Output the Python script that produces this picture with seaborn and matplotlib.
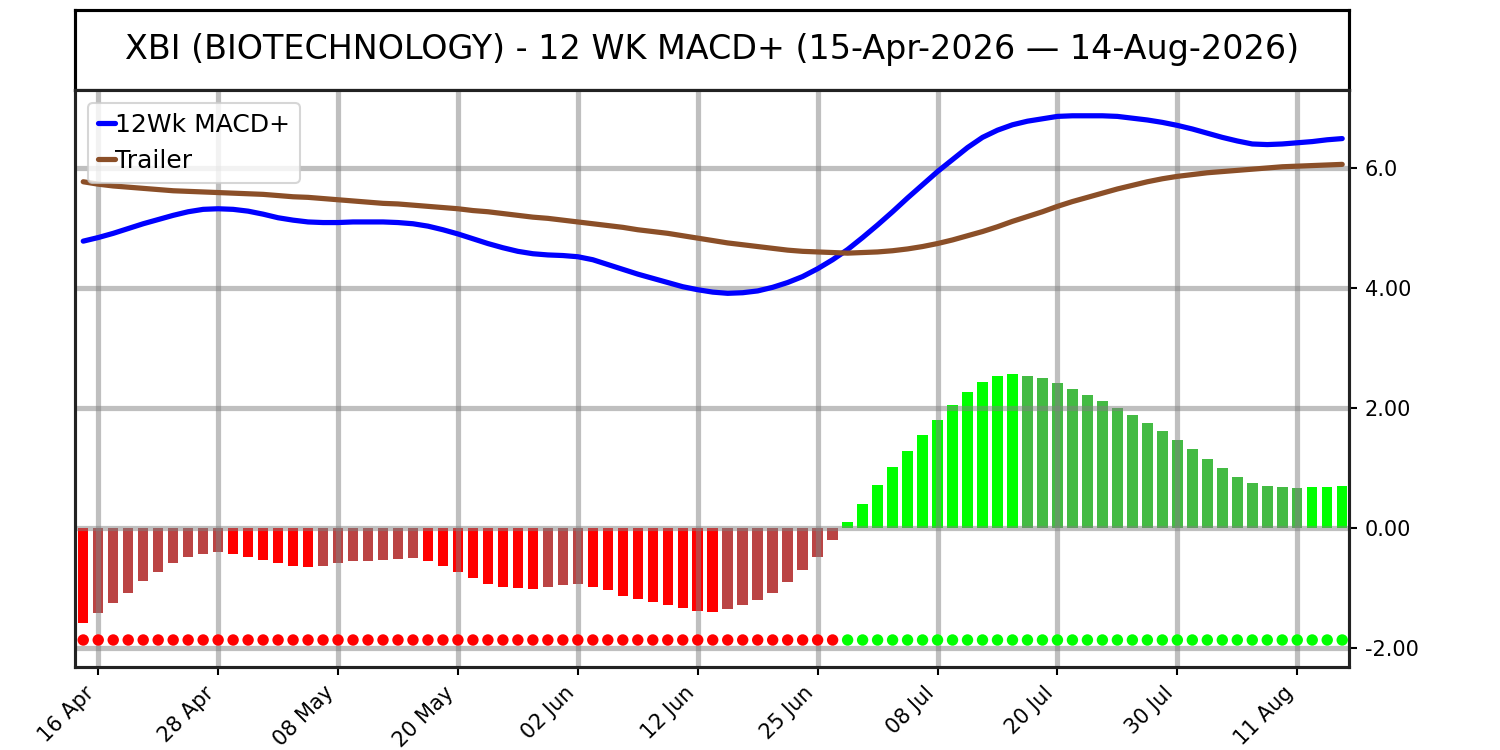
import numpy as np
import pandas as pd
import matplotlib
matplotlib.use("Agg")
import matplotlib.pyplot as plt
import seaborn as sns

# данные графика
title = "XBI (BIOTECHNOLOGY) - 12 WK MACD+ (15-Apr-2026 \u2014 14-Aug-2026)"
tick_labels = ['16 Apr', '28 Apr', '08 May', '20 May', '02 Jun', '12 Jun',
               '25 Jun', '08 Jul', '20 Jul', '30 Jul', '11 Aug']
tick_pos = [1, 9, 17, 25, 33, 41, 49, 57, 65, 73, 81]
ytick_vals = [-2, 0, 2, 4, 6]
ytick_text = ['-2.00', '0.00', '2.00', '4.00', '6.0']

hist = [-1.59, -1.42, -1.26, -1.08, -0.89, -0.74, -0.59, -0.49, -0.44, -0.41,
        -0.43, -0.48, -0.53, -0.59, -0.63, -0.65, -0.63, -0.59, -0.56, -0.55,
        -0.53, -0.52, -0.51, -0.55, -0.63, -0.73, -0.84, -0.93, -0.98, -1.01,
        -1.02, -0.99, -0.96, -0.94, -0.98, -1.04, -1.13, -1.18, -1.24, -1.29,
        -1.34, -1.39, -1.40, -1.36, -1.29, -1.21, -1.08, -0.91, -0.71, -0.48,
        -0.21, 0.10, 0.40, 0.72, 1.02, 1.28, 1.55, 1.80, 2.05, 2.27,
        2.43, 2.53, 2.57, 2.53, 2.50, 2.42, 2.32, 2.22, 2.12, 2.00,
        1.88, 1.75, 1.62, 1.47, 1.32, 1.15, 1.00, 0.85, 0.75, 0.69,
        0.675, 0.67, 0.675, 0.68, 0.69]

macd = [4.78, 4.84, 4.91, 4.99, 5.07, 5.14, 5.21, 5.27, 5.31, 5.32,
        5.31, 5.28, 5.23, 5.17, 5.13, 5.10, 5.09, 5.09, 5.10, 5.10,
        5.10, 5.09, 5.07, 5.03, 4.97, 4.90, 4.82, 4.74, 4.67, 4.61,
        4.57, 4.55, 4.54, 4.52, 4.47, 4.39, 4.31, 4.23, 4.16, 4.09,
        4.02, 3.97, 3.93, 3.91, 3.92, 3.95, 4.01, 4.09, 4.19, 4.32,
        4.47, 4.64, 4.84, 5.05, 5.27, 5.50, 5.72, 5.94, 6.14, 6.34,
        6.51, 6.63, 6.72, 6.78, 6.82, 6.86, 6.87, 6.87, 6.87, 6.86,
        6.83, 6.80, 6.76, 6.71, 6.65, 6.58, 6.51, 6.45, 6.40, 6.39,
        6.40, 6.42, 6.44, 6.47, 6.49]

trailer = [5.77, 5.73, 5.70, 5.68, 5.66, 5.64, 5.62, 5.61, 5.60, 5.59,
           5.58, 5.57, 5.56, 5.54, 5.52, 5.51, 5.49, 5.47, 5.45, 5.43,
           5.41, 5.40, 5.38, 5.36, 5.34, 5.32, 5.29, 5.27, 5.24, 5.21,
           5.18, 5.16, 5.13, 5.10, 5.07, 5.04, 5.01, 4.97, 4.94, 4.91,
           4.87, 4.83, 4.79, 4.75, 4.72, 4.69, 4.66, 4.63, 4.61, 4.60,
           4.59, 4.58, 4.59, 4.60, 4.62, 4.65, 4.69, 4.74, 4.80, 4.87,
           4.94, 5.02, 5.11, 5.19, 5.27, 5.36, 5.44, 5.51, 5.58, 5.65,
           5.71, 5.77, 5.82, 5.86, 5.89, 5.92, 5.94, 5.96, 5.98, 6.00,
           6.02, 6.03, 6.04, 6.05, 6.06]

dot_level = -1.87

df = pd.DataFrame({'idx': np.arange(len(hist)), 'hist': hist,
                   'macd': macd, 'trailer': trailer})
prev = df['hist'].shift(1)
rising = df['hist'] > prev


def bar_color(v, up):
    if v < 0:
        return '#bb4444' if up else '#ff0000'
    return '#00ff00' if up else '#44bb44'


colors = [bar_color(v, u) for v, u in zip(df['hist'], rising)]
dot_colors = ['#ff0000' if v < 0 else '#00ff00' for v in df['hist']]

sns.set_style('white')
plt.rcParams.update({'text.color': 'black', 'xtick.color': 'black',
                     'ytick.color': 'black', 'axes.edgecolor': 'black'})
fig = plt.figure(figsize=(10, 5), dpi=150)
ax_t = fig.add_axes([0.05, 0.88, 0.8493, 0.1067])
ax = fig.add_axes([0.05, 0.1107, 0.8493, 0.7693])

# заголовок в рамке
ax_t.set_xticks([])
ax_t.set_yticks([])
ax_t.text(0.5, 0.5, title, ha='center', va='center', fontsize=16,
          color='black', transform=ax_t.transAxes)
for s in ax_t.spines.values():
    s.set_linewidth(1.5)
    s.set_color('black')

# гистограмма
ax.bar(df['idx'], df['hist'], width=0.7, color=colors, edgecolor='none',
       linewidth=0, zorder=1)
ax.scatter(df['idx'], [dot_level] * len(df), c=dot_colors, s=30, zorder=3,
           linewidths=0)
sns.lineplot(data=df, x='idx', y='macd', ax=ax, color='blue', lw=2.5,
             label='12Wk MACD+', zorder=3)
sns.lineplot(data=df, x='idx', y='trailer', ax=ax, color='#8b4f28', lw=2.5,
             label='Trailer', zorder=3)

ax.set_xlim(-0.55, 84.45)
ax.set_ylim(-2.32, 7.3)
ax.set_xticks(tick_pos)
ax.set_xticklabels(tick_labels, rotation=45, ha='right', fontsize=10)
ax.set_yticks(ytick_vals)
ax.set_yticklabels(ytick_text, fontsize=10)
ax.yaxis.tick_right()
ax.tick_params(axis='both', length=4, width=1, direction='out',
               bottom=True, right=True, left=False, colors='black')
ax.set_xlabel('')
ax.set_ylabel('')
ax.set_axisbelow('line')
ax.grid(True, color='gray', alpha=0.5, lw=2.5)
for s in ax.spines.values():
    s.set_color('#222222')
    s.set_linewidth(1.5)

ax.legend(loc='upper left', fontsize=12, handlelength=0.7, handletextpad=0.0,
          borderpad=0.4, labelspacing=0.5, framealpha=0.8)

fig.savefig('out.png', dpi=150)
